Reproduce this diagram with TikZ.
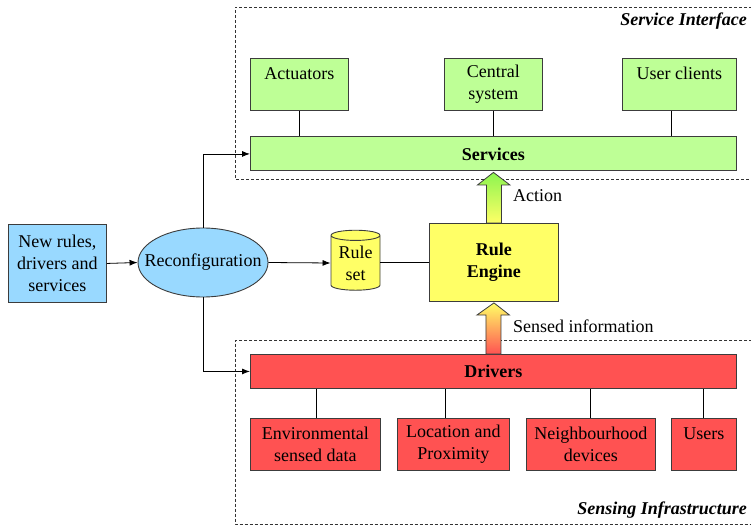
\documentclass[tikz,border=0pt]{standalone}
\usepackage{fontspec}
\setmainfont{LiberationSerif}[Extension=.ttf, UprightFont=*-Regular, BoldFont=*-Bold, ItalicFont=*-Italic, BoldItalicFont=*-BoldItalic]
\usetikzlibrary{arrows.meta,shapes.geometric,calc}
\definecolor{gfill}{RGB}{190,255,150}
\definecolor{rfill}{RGB}{255,82,82}
\definecolor{bfill}{RGB}{153,217,255}
\definecolor{yfill}{RGB}{255,255,102}
\definecolor{agreen}{RGB}{140,245,80}
\definecolor{boxline}{RGB}{60,60,60}
\tikzset{
  box/.style={draw=boxline, line width=0.9pt, align=center, inner sep=0pt,
    font=\rmfamily\fontsize{18}{22}\selectfont},
  gbox/.style={box, fill=gfill},
  rbox/.style={box, fill=rfill},
  conn/.style={draw=black, line width=0.8pt},
  arr/.style={conn, -{Latex[length=8pt,width=6pt]}},
  zone/.style={draw=black!80, line width=0.8pt, dash pattern=on 3pt off 2pt},
  lbl/.style={font=\rmfamily\fontsize{18}{22}\selectfont, inner sep=0pt},
  zlbl/.style={font=\rmfamily\fontsize{18}{22}\selectfont\bfseries\itshape, inner sep=0pt},
}
\begin{document}
\begin{tikzpicture}[x=1pt,y=-1pt]
\useasboundingbox (0,0) rectangle (751,526);
% zones
\draw[zone] (752,7) -- (235,7) -- (235,179) -- (752,179);
\draw[zone] (752,340.5) -- (235,340.5) -- (235,524) -- (752,524);
\node[zlbl, anchor=base east] (zsi) at (747,26) {Service Interface};
\node[zlbl, anchor=base east] (zsn) at (747,514) {Sensing Infrastructure};
% top boxes
\node[gbox, minimum width=98pt, minimum height=52pt, anchor=north west] (act) at (250,58) {Actuators\\~};
\node[gbox, minimum width=98pt, minimum height=52pt, anchor=north west] (cen) at (444,58) {Central\\system};
\node[gbox, minimum width=114pt, minimum height=52pt, anchor=north west] (usc) at (622,58) {User clients\\~};
\node[gbox, minimum width=486pt, minimum height=34pt, anchor=north west, font=\rmfamily\fontsize{18}{22}\selectfont\bfseries] (serv) at (250,136.5) {Services};
% bottom
\node[rbox, minimum width=486pt, minimum height=34pt, anchor=north west, font=\rmfamily\fontsize{18}{22}\selectfont\bfseries] (drv) at (250,354) {Drivers};
\node[rbox, minimum width=130pt, minimum height=52pt, anchor=north west] (env) at (250,418) {Environmental\\sensed data};
\node[rbox, minimum width=112pt, minimum height=52pt, anchor=north west] (loc) at (397,418) {Location and\\Proximity};
\node[rbox, minimum width=129pt, minimum height=52pt, anchor=north west] (nei) at (526,418) {Neighbourhood\\devices};
\node[rbox, minimum width=65pt, minimum height=52pt, anchor=north west] (usr) at (671,418) {Users\\~};
% middle
\node[box, fill=bfill, minimum width=98pt, minimum height=78pt, anchor=north west] (new) at (8,224) {New rules,\\drivers and\\services};
\node[box, fill=bfill, ellipse, minimum width=130pt, minimum height=69pt, inner sep=0pt] (rec) at (203,262.5) {};
\node[lbl] (rect) at (rec.center) {Reconfiguration};
\node[box, fill=yfill, cylinder, shape border rotate=90, aspect=0.3, minimum width=49pt, minimum height=60pt] (rs) at (355.5,263) {Rule\\set};
\node[box, fill=yfill, minimum width=129pt, minimum height=78pt, anchor=north west, font=\rmfamily\fontsize{18}{22}\selectfont\bfseries] (eng) at (429,223) {Rule\\Engine};
% connectors
\draw[conn] (act.south -| 299,0) -- (serv.north -| 299,0);
\draw[conn] (cen.south) -- (cen.south |- serv.north);
\draw[conn] (usc.south -| 671,0) -- (serv.north -| 671,0);
\draw[conn] (drv.south -| 316,0) -- (env.north -| 316,0);
\draw[conn] (drv.south -| 445,0) -- (loc.north -| 445,0);
\draw[conn] (drv.south -| 590,0) -- (nei.north -| 590,0);
\draw[conn] (drv.south -| 703,0) -- (usr.north -| 703,0);
\draw[arr] (new.east) -- (rec.west);
\draw[arr] (rec.east) -- (rs.west);
\draw[conn] (rs.east |- eng.west) -- (eng.west);
\draw[arr] (rec.north) |- (serv.west);
\draw[arr] (rec.south) |- (drv.west);
% block arrows
\draw[draw=boxline, line width=0.8pt, top color=agreen, bottom color=yfill]
  ($(eng.north)+(-7.5,0)$) -- ++(0,-38) -- ++(-9,0) -- ($(serv.south)+(0,1)$) -- ($(eng.north)+(16,-38)$) -- ++(-8.5,0) -- ($(eng.north)+(7.5,0)$) -- cycle;
\draw[draw=boxline, line width=0.8pt, top color=yfill, bottom color=rfill]
  ($(drv.north)+(-7.5,0)$) -- ++(0,-39) -- ++(-9,0) -- ($(eng.south)+(0,1)$) -- ($(drv.north)+(16,-39)$) -- ++(-8.5,0) -- ($(drv.north)+(7.5,0)$) -- cycle;
\node[lbl, anchor=west] (lact) at (513,196) {Action};
\node[lbl, anchor=west] (lsen) at (513,326) {Sensed information};
\end{tikzpicture}
\end{document}
